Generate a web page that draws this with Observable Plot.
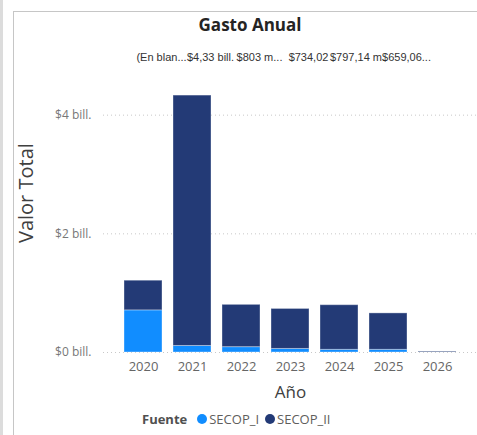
<!DOCTYPE html>
<html>
<head>
<meta charset="utf-8">
<script src="https://cdn.jsdelivr.net/npm/d3@7"></script>
<script src="https://cdn.jsdelivr.net/npm/@observablehq/plot@0.6"></script>
<style>
  html, body { margin: 0; padding: 0; background: #fff; }
  #wrap { position: relative; width: 477px; height: 435px; overflow: hidden; font-family: "Open Sans", "Noto Sans", sans-serif; }
  #leftbar { position: absolute; left: 0; top: 0; width: 3px; height: 435px; background: #dcdcdc; }
  #frame { position: absolute; left: 13px; top: 11px; width: 470px; height: 440px; border-left: 1px solid #c6c6c6; border-top: 1px solid #c6c6c6; }
  #title { position: absolute; left: 13px; width: 474px; top: 13px; text-align: center; font-weight: 700; font-size: 17px; color: #252423; }
  #chart { position: absolute; left: 0; top: 45px; }
  #legend { position: absolute; top: 410px; left: 142px; font-size: 13px; color: #605e5c; display: flex; align-items: center; white-space: nowrap; }
  #legend b { color: #505050; margin-right: 10px; }
  .sw { display: inline-block; width: 10px; height: 10px; border-radius: 50%; margin-right: 2px; }
  .item { display: flex; align-items: center; margin-right: 6px; }
  g[aria-label="x-axis label"] text { font-size: 17px; fill: #404040; }
</style>
</head>
<body>
<div id="wrap">
  <div id="leftbar"></div>
  <div id="frame"></div>
  <div id="title">Gasto Anual</div>
  <div id="chart"></div>
  <div id="legend"></div>
</div>
<script>
const years = ["2020", "2021", "2022", "2023", "2024", "2025", "2026"];
const series = ["SECOP_I", "SECOP_II"];
const secopI  = [0.71, 0.11, 0.09, 0.06, 0.045, 0.045, 0.0];
const secopII = [0.50, 4.22, 0.713, 0.674, 0.752, 0.614, 0.012];
const colors = ["#118DFF", "#233A76"];
const yTicks = [0, 2, 4];
const labelYears = ["2020", "2021", "2022", "2023", "2024", "2025"];
const labelTexts = ["(En blan...", "$4,33 bill.", "$803 m...", "$734,02", "$797,14 m.", "$659,06..."];

const data = [];
series.forEach((s, si) => {
  const vals = si === 0 ? secopI : secopII;
  years.forEach((y, i) => data.push({year: y, fuente: s, value: vals[i]}));
});
const labels = labelYears.map((y, i) => ({year: y, text: labelTexts[i]}));

const chart = Plot.plot({
  width: 477,
  height: 363,
  marginLeft: 103,
  marginRight: 0,
  marginTop: 40,
  marginBottom: 56,
  style: { fontFamily: "'Open Sans', 'Noto Sans', sans-serif", background: "transparent" },
  x: { type: "band", domain: years, paddingInner: 0.22, paddingOuter: 0.4 },
  y: { domain: [0, 4.5] },
  color: { domain: series, range: colors },
  marks: [
    Plot.ruleY(yTicks, { stroke: "#c8c8c8", strokeDasharray: "1,3" }),
    Plot.barY(data, Plot.stackY({ x: "year", y: "value", fill: "fuente", stroke: "#ffffff", strokeOpacity: 0.35, strokeWidth: 1 })),
    Plot.axisY({ ticks: yTicks, tickSize: 0, tickPadding: 12, tickFormat: d => `$${d} bill.`, fontSize: 12, color: "#777", label: null }),
    Plot.axisX({ tickSize: 0, tickPadding: 9, fontSize: 13, color: "#666", label: "Año", labelAnchor: "center", labelOffset: 45, labelArrow: "none" }),
    Plot.text(["Valor Total"], { frameAnchor: "left", rotate: -90, dx: -77, dy: 24, fontSize: 20, fill: "#404040" }),
    Plot.text(labels, { x: "year", text: "text", frameAnchor: "top", dy: -32, dx: 18, fontSize: 11, fill: "#333", fontFamily: "'Liberation Sans', Arial, sans-serif" })
  ]
});
document.getElementById("chart").appendChild(chart);

const legend = document.getElementById("legend");
legend.innerHTML = "<b>Fuente</b>" + series.map((s, i) =>
  `<span class="item"><span class="sw" style="background:${colors[i]}"></span>${s}</span>`).join("");
</script>
</body>
</html>
